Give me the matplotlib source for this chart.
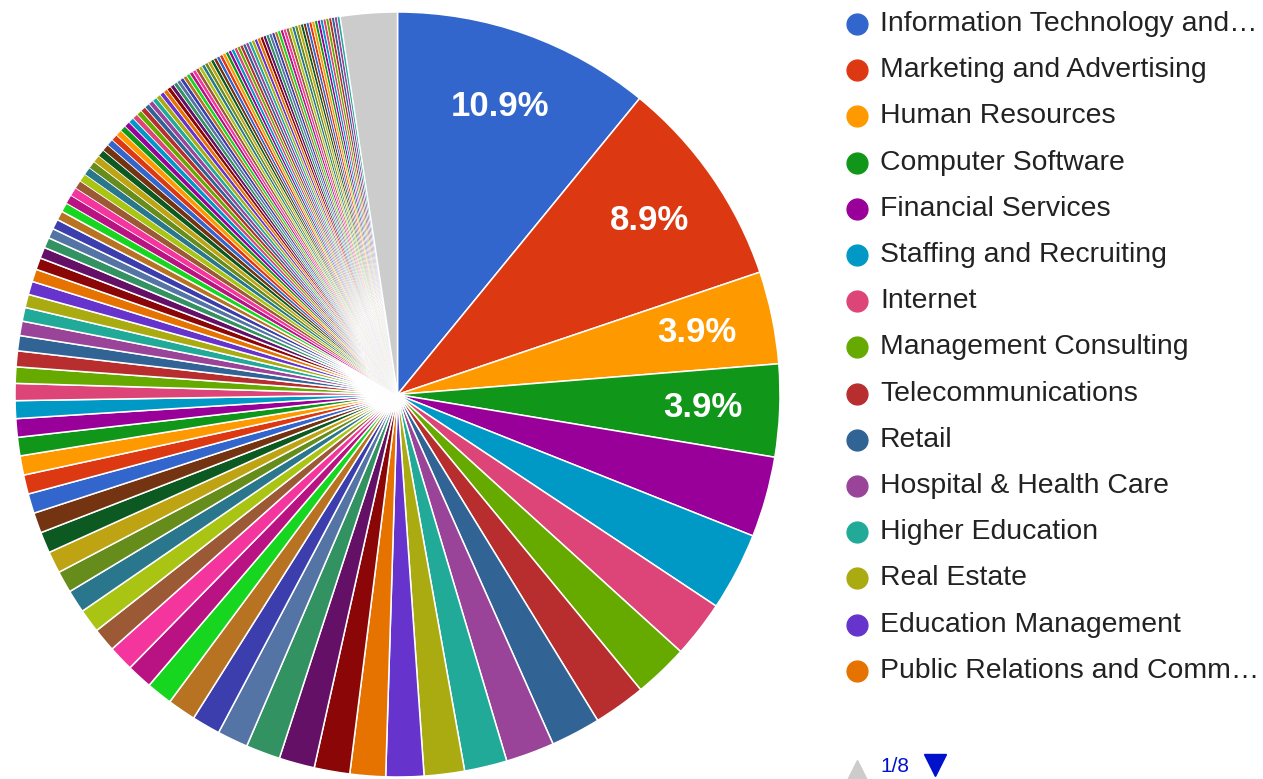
import matplotlib
matplotlib.use("Agg")
import matplotlib.pyplot as plt

# Google Charts default palette, it is cycled over the slices
palette = ["#3366cc", "#dc3912", "#ff9900", "#109618", "#990099", "#0099c6",
           "#dd4477", "#66aa00", "#b82e2e", "#316395", "#994499", "#22aa99",
           "#aaaa11", "#6633cc", "#e67300", "#8b0707", "#651067", "#329262",
           "#5574a6", "#3b3eac", "#b77322", "#16d620", "#b91383", "#f4359e",
           "#9c5935", "#a9c413", "#2a778d", "#668d1c", "#bea413", "#0c5922",
           "#743411"]
other_color = "#cccccc"

# first legend page (page 1 of 8)
legend_labels = ["Information Technology and…", "Marketing and Advertising",
                 "Human Resources", "Computer Software", "Financial Services",
                 "Staffing and Recruiting", "Internet", "Management Consulting",
                 "Telecommunications", "Retail", "Hospital & Health Care",
                 "Higher Education", "Real Estate", "Education Management",
                 "Public Relations and Comm…"]

# slice shares in %, biggest first
top_shares = [10.9, 8.9, 3.9, 3.9, 3.4, 3.3, 2.4, 2.3, 2.2, 2.1, 2.05,
              1.8, 1.7, 1.6, 1.5, 1.5, 1.5, 1.45, 1.3, 1.2, 1.2, 1.1]
mid_shares = [1.08, 1.08, 1.0, 1.0, 0.97, 0.92, 0.92, 0.89, 0.86, 0.83,
              0.81, 0.81, 0.78, 0.78, 0.75, 0.72, 0.69, 0.67, 0.64, 0.61,
              0.58, 0.56, 0.56, 0.53, 0.5, 0.47, 0.44, 0.42, 0.42, 0.39, 0.39]
tail_shares = [0.37, 0.36, 0.35, 0.34, 0.33, 0.32, 0.31, 0.30, 0.29, 0.28,
               0.27, 0.26, 0.25, 0.24, 0.235, 0.23, 0.225, 0.22, 0.21, 0.205,
               0.2, 0.195, 0.19, 0.18, 0.175,
               0.17, 0.165, 0.16, 0.16, 0.155, 0.155, 0.15, 0.15, 0.15, 0.145,
               0.145, 0.145, 0.14, 0.14, 0.14, 0.14, 0.14, 0.135, 0.135, 0.135,
               0.135, 0.135, 0.13, 0.13, 0.13, 0.13, 0.13, 0.13, 0.13, 0.13,
               0.13, 0.13, 0.13, 0.125, 0.125, 0.125, 0.125, 0.125, 0.125,
               0.125, 0.125, 0.125, 0.125, 0.125, 0.12, 0.12, 0.12, 0.12, 0.12,
               0.12, 0.12, 0.12, 0.12, 0.12, 0.12, 0.12, 0.12, 0.12]
other_share = 2.4

shares = top_shares + mid_shares + tail_shares
values = shares + [other_share]
colors = [palette[i % len(palette)] for i in range(len(shares))] + [other_color]

W, H = 1263, 779
fig = plt.figure(figsize=(W / 100, H / 100), dpi=100)

# pie: centre and radius in pixels of the reference
cx, cy, r = 397.5, 394.5, 382.5
ax = fig.add_axes([(cx - r) / W, (H - cy - r) / H, 2 * r / W, 2 * r / H])
wedges, texts, autotexts = ax.pie(
    values, colors=colors, startangle=90, counterclock=False,
    wedgeprops=dict(edgecolor="white", linewidth=1.1),
    autopct=lambda p: f"{p:.1f}%" if p >= 3.6 else "",
    pctdistance=0.8,
    textprops=dict(color="white", fontsize=25, fontweight="bold",
                   family="Liberation Sans"))
# the many thin slices get thinner borders so their colour still shows
n_big = len(top_shares) + len(mid_shares)
for i, w in enumerate(wedges[n_big:len(shares)]):
    w.set_linewidth(0.5)
ax.set_xlim(-1, 1)
ax.set_ylim(-1, 1)
ax.axis("off")

# legend, drawn in pixel coordinates
lg = fig.add_axes([0, 0, 1, 1], facecolor="none")
lg.set_xlim(0, W)
lg.set_ylim(H, 0)
lg.axis("off")
for i, label in enumerate(legend_labels):
    y = 24 + 46.2 * i
    lg.plot(857, y, "o", ms=15, color=colors[i], mec=colors[i])
    lg.text(880, y, label, fontsize=20.4, color="#222222",
            family="Liberation Sans", va="center", ha="left")

# paging controls
lg.plot(857, 772, "^", ms=17, color="#cccccc", clip_on=False)
lg.text(880, 766, "1/8", fontsize=15, color="#0011cc",
        family="Liberation Sans", va="center", ha="left")
lg.plot(935, 765, "v", ms=16, color="#0011cc")

fig.savefig("out.png", dpi=100)
